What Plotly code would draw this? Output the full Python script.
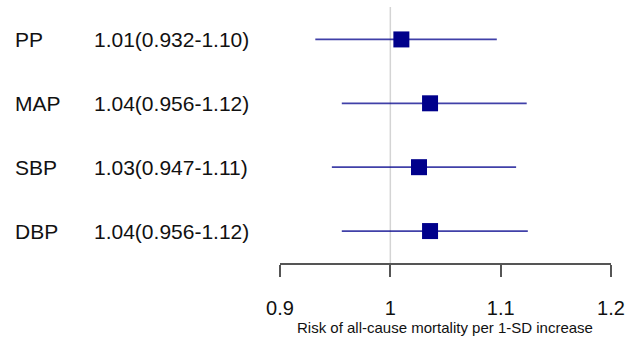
import plotly.graph_objects as go

# Forest plot: hazard ratio per 1-SD increase with 95% CI
names = ["PP", "MAP", "SBP", "DBP"]
estimate = [1.010, 1.036, 1.026, 1.036]
lower = [0.932, 0.956, 0.947, 0.956]
upper = [1.0965, 1.1236, 1.114, 1.1246]
tick_vals = [0.9, 1.0, 1.1, 1.2]
tick_text = ["0.9", "1", "1.1", "1.2"]
x_title = "Risk of all-cause mortality per 1-SD increase"

W, H = 629, 339
plot_bottom = 263.5  # pixel y of the x axis line
row_y = list(range(len(names)))

def fmt(v):
    return format(v, "#.3g")

fig = go.Figure()

fig.add_trace(go.Scatter(
    x=estimate,
    y=row_y,
    mode="markers",
    marker=dict(symbol="square", size=16, color="#00008B"),
    error_x=dict(
        type="data",
        symmetric=False,
        array=[u - e for u, e in zip(upper, estimate)],
        arrayminus=[e - l for e, l in zip(estimate, lower)],
        color="rgba(0,0,139,0.75)",
        thickness=1.7,
        width=0,
    ),
    showlegend=False,
    hoverinfo="skip",
))

# reference line at 1
fig.add_shape(type="line", xref="x", yref="paper", x0=1, x1=1,
              y0=0, y1=(plot_bottom - 7) / plot_bottom,
              line=dict(color="#d4d4d4", width=1.5), layer="below")

text_font = dict(family="Liberation Sans, Arial, sans-serif", size=21, color="#111111")
for i, n in enumerate(names):
    fig.add_annotation(x=13 / W, y=row_y[i], xref="paper", yref="y",
                       text=n, showarrow=False, xanchor="left", yanchor="middle",
                       font=text_font)
    fig.add_annotation(x=92 / W, y=row_y[i], xref="paper", yref="y",
                       text=f"{fmt(estimate[i])}({fmt(lower[i])}-{fmt(upper[i])})",
                       showarrow=False, xanchor="left", yanchor="middle",
                       font=text_font)

fig.add_annotation(x=445 / W, y=(plot_bottom - 328) / plot_bottom,
                   xref="paper", yref="paper", text=x_title, showarrow=False,
                   xanchor="center", yanchor="middle",
                   font=dict(family="Liberation Sans, Arial, sans-serif", size=15, color="#111111"))

row_px0, row_step = 39.5, 64.0
fig.update_layout(
    width=W, height=H,
    margin=dict(l=0, r=0, t=0, b=H - plot_bottom, pad=0, autoexpand=False),
    plot_bgcolor="white", paper_bgcolor="white",
    xaxis=dict(
        domain=[280 / W, 611 / W],
        range=[0.9, 1.2],
        tickvals=tick_vals, ticktext=tick_text,
        ticks="outside", ticklen=12, tickwidth=1.5, tickcolor="#555555",
        showline=True, linecolor="#555555", linewidth=1.5,
        showgrid=False, zeroline=False, automargin=False,
        tickfont=dict(family="Liberation Sans, Arial, sans-serif", size=20, color="#111111"),
        ticklabelstandoff=14,
    ),
    yaxis=dict(
        range=[(plot_bottom - row_px0) / row_step, -row_px0 / row_step],
        showticklabels=False, showgrid=False, zeroline=False, showline=False,
        automargin=False,
    ),
)

fig.write_html("out.html")
